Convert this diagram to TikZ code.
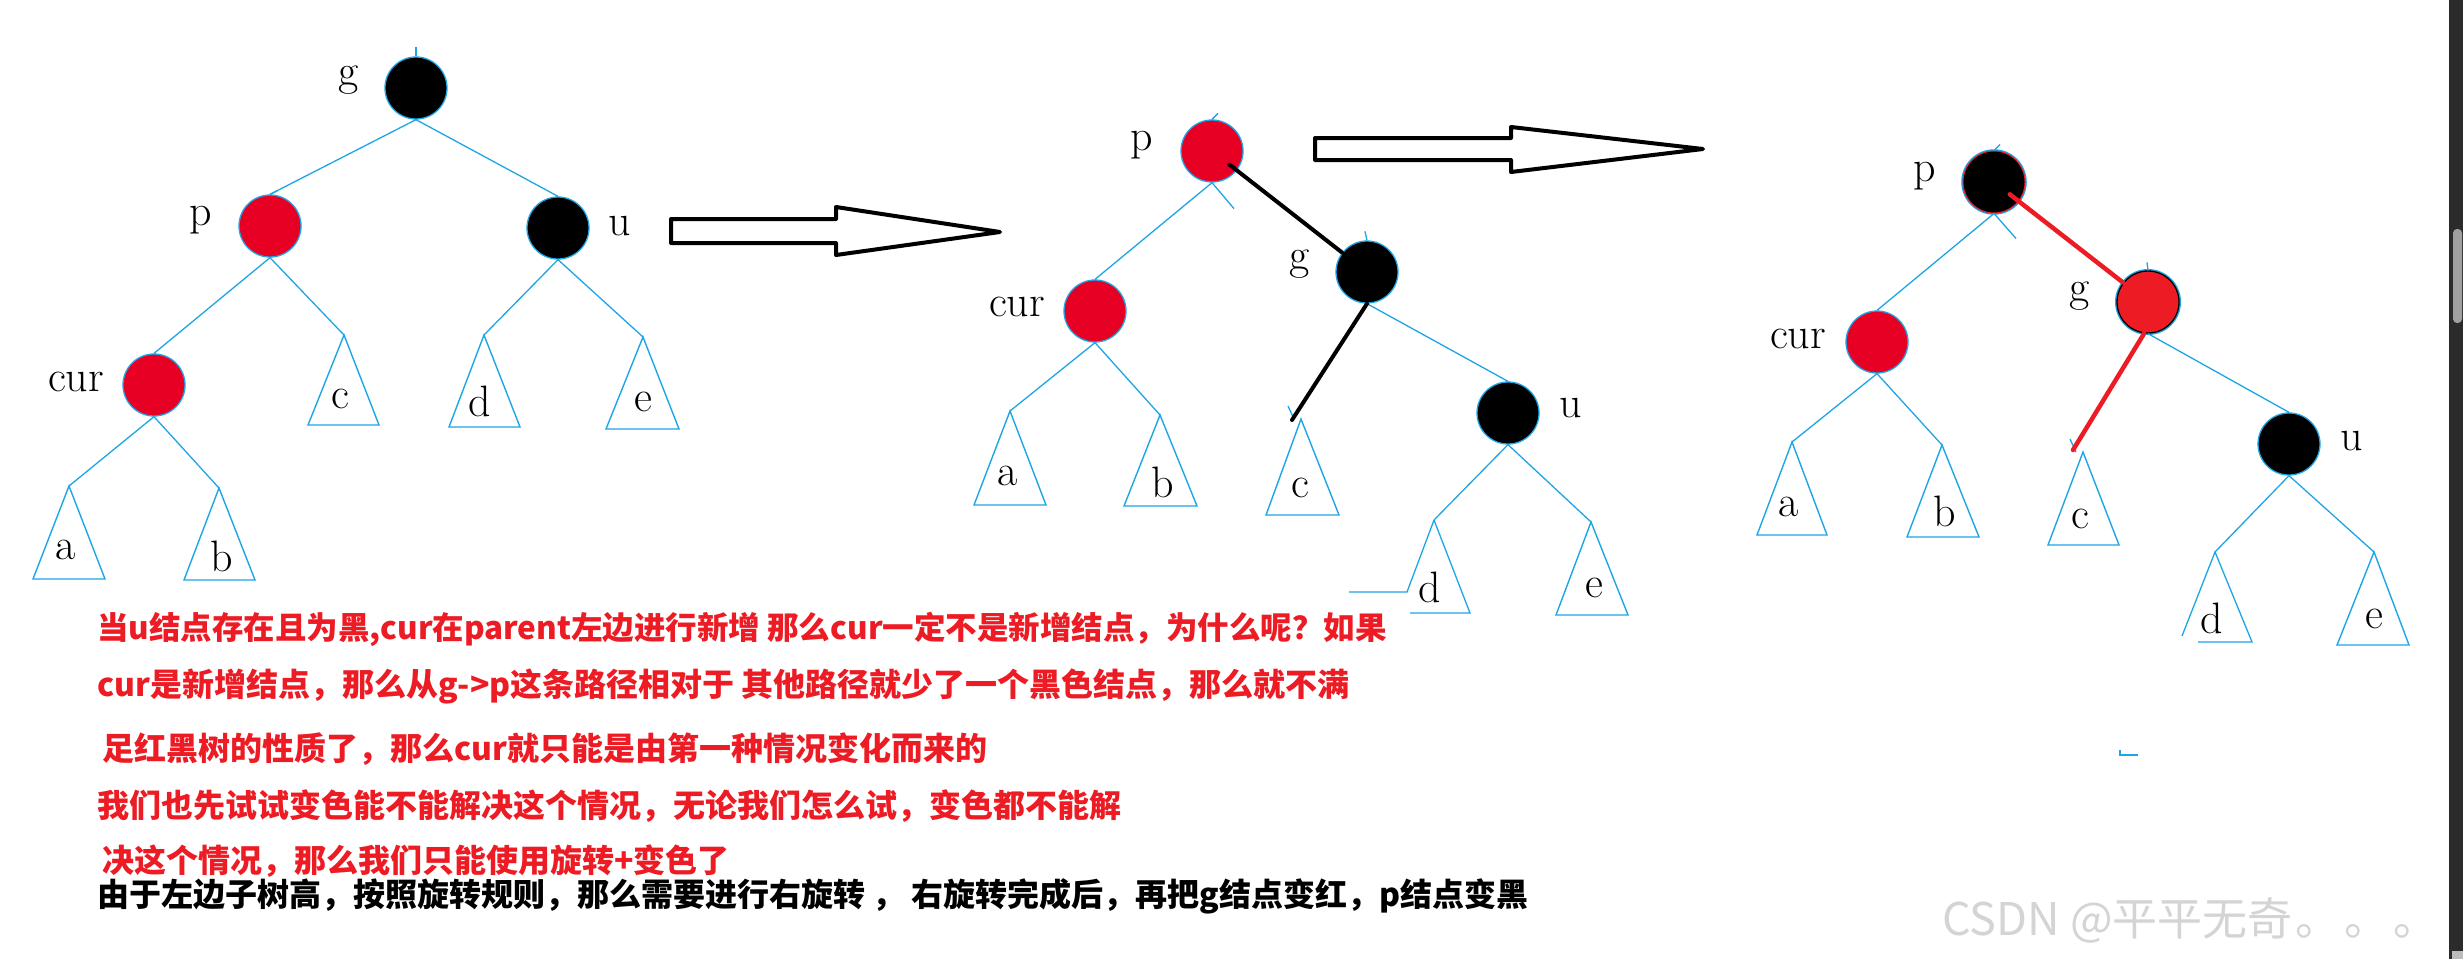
\documentclass[tikz,border=0pt]{standalone}
\usepackage{fontspec}
\usetikzlibrary{calc}
\newfontfamily\cjk{Noto Sans CJK SC}
\definecolor{blueline}{RGB}{30,165,230}
\definecolor{nodered}{RGB}{232,0,36}
\definecolor{txtred}{RGB}{237,28,36}
\definecolor{gred}{RGB}{237,28,36}
\definecolor{scrollbg}{RGB}{43,43,43}
\definecolor{thumbgray}{RGB}{160,160,160}
\definecolor{wmgray}{RGB}{212,212,212}
\begin{document}
\begin{tikzpicture}[x=1pt,y=-1pt,
  rb/.style={circle, minimum size=62pt, inner sep=0pt, draw=blueline, line width=1.3pt},
  rednode/.style={rb, fill=nodered},
  blacknode/.style={rb, fill=black},
  lbl/.style={inner sep=0pt, font=\fontsize{44}{48}\selectfont},
  bl/.style={draw=blueline, line width=1.3pt},
  subtri/.style={draw=blueline, line width=1.4pt, line join=miter},
  rotblack/.style={draw=black, line width=4pt, line cap=round},
  rotred/.style={draw=gred, line width=4.5pt, line cap=round},
  blockarrow/.style={draw=black, line width=4pt, line join=round, fill=white},
  cjkline/.style={inner sep=0pt, anchor=base west, font=\cjk\bfseries\fontsize{32}{36}\selectfont},
]
\useasboundingbox[fill=white] (0,0) rectangle (2463,959);

% ---------------- Tree 1 ----------------
\node[blacknode] (g1) at (416,88) {};
\node[rednode] (p1) at (270,226) {};
\node[blacknode] (u1) at (558,228) {};
\node[rednode] (cur1) at (154,385) {};
\coordinate (a1) at (69,486);
\coordinate (b1) at (219,488);
\coordinate (c1) at (344,335);
\coordinate (d1) at (484,335);
\coordinate (e1) at (643,337);
\draw[bl] (g1.north) -- ++(0,-9);
\draw[bl] (p1.north) -- ++(8,-4);
\draw[bl] (g1.south) -- (p1.north);
\draw[bl] (g1.south) -- (u1.north);
\draw[bl] (p1.south) -- (cur1.north);
\draw[bl] (p1.south) -- (c1);
\draw[bl] (u1.south) -- (d1);
\draw[bl] (u1.south) -- (e1);
\draw[bl] (cur1.south) -- (a1);
\draw[bl] (cur1.south) -- (b1);
\draw[subtri] (a1) -- ++(-36,93) -- ++(72,0) -- cycle;
\draw[subtri] (b1) -- ++(-35,92) -- ++(71,0) -- cycle;
\draw[subtri] (c1) -- ++(-36,90) -- ++(71,0) -- cycle;
\draw[subtri] (d1) -- ++(-35,92) -- ++(71,0) -- cycle;
\draw[subtri] (e1) -- ++(-37,92) -- ++(73,0) -- cycle;
\node[lbl] (g1l) at (349,80) {g};
\node[lbl] (p1l) at (201,220) {p};
\node[lbl] (u1l) at (620,226) {u};
\node[lbl] (cur1l) at (76,382) {cur};
\node[lbl] (a1l) at (66,550) {a};
\node[lbl] (b1l) at (222,556) {b};
\node[lbl] (c1l) at (340,399) {c};
\node[lbl] (d1l) at (480,401) {d};
\node[lbl] (e1l) at (643,402) {e};

% ---------------- Arrows ----------------
\draw[blockarrow] (671,219) -- (836,219) -- (836,207) -- (1000,232) -- (836,255) -- (836,243) -- (671,243) -- cycle;
\draw[blockarrow] (1315,138) -- (1511,138) -- (1511,127) -- (1703,149) -- (1511,172) -- (1511,160) -- (1315,160) -- cycle;

% ---------------- Tree 2 ----------------
\node[rednode] (p2) at (1212,151) {};
\node[blacknode] (g2) at (1367,272) {};
\node[rednode] (cur2) at (1095,311) {};
\node[blacknode] (u2) at (1508,413) {};
\coordinate (a2) at (1010,411);
\coordinate (b2) at (1160,415);
\coordinate (c2) at (1301,419);
\coordinate (d2) at (1434,520);
\coordinate (e2) at (1591,522);
\draw[bl] (p2.north) -- ++(6,-6);
\draw[bl] (g2.north) -- ++(-2,-9);
\draw[bl] (p2.south) -- (cur2.north);
\draw[bl] (p2.south) -- ++(22,26);
\draw[bl] (g2.south) -- (u2.north);
\draw[bl] (cur2.south) -- (a2);
\draw[bl] (cur2.south) -- (b2);
\draw[bl] (u2.south) -- (d2);
\draw[bl] (u2.south) -- (e2);
\draw[bl] ($(c2)+(-13,-13)$) -- ($(c2)+(-7,0)$);
\draw[subtri] (a2) -- ++(-36,94) -- ++(72,0) -- cycle;
\draw[subtri] (b2) -- ++(-36,91) -- ++(73,0) -- cycle;
\draw[subtri] (c2) -- ++(-35,96) -- ++(73,0) -- cycle;
\draw[bl] (d2) -- (1407,592) -- (1349,592);
\draw[bl] (1410,613) -- (1470,613) -- (d2);
\draw[subtri] (e2) -- ++(-35,93) -- ++(72,0) -- cycle;
\draw[rotblack] ($(p2.center)!22pt!(g2.center)$) -- (g2);
\draw[rotblack] (g2.south) -- ($(c2)+(-9,1)$);
\node[lbl] (p2l) at (1142,145) {p};
\node[lbl] (g2l) at (1300,264) {g};
\node[lbl] (cur2l) at (1017,307) {cur};
\node[lbl] (u2l) at (1571,408) {u};
\node[lbl] (a2l) at (1008,476) {a};
\node[lbl] (b2l) at (1163,482) {b};
\node[lbl] (c2l) at (1300,488) {c};
\node[lbl] (d2l) at (1430,587) {d};
\node[lbl] (e2l) at (1594,588) {e};

% ---------------- Tree 3 ----------------
\node[rb, fill=black, draw=gred, line width=1pt, preaction={draw=blueline, line width=3.5pt}] (p3) at (1994,182) {};
\node[rb, fill=gred, draw=black, line width=1.3pt, preaction={draw=blueline, line width=4pt}] (g3) at (2148,302) {};
\node[rednode] (cur3) at (1877,342) {};
\node[blacknode] (u3) at (2289,444) {};
\coordinate (a3) at (1792,442);
\coordinate (b3) at (1942,445);
\coordinate (c3) at (2083,452);
\coordinate (d3) at (2215,552);
\coordinate (e3) at (2374,552);
\draw[bl] (p3.north) -- ++(6,-6);
\draw[bl] (g3.north) -- ++(-1,-8);
\draw[bl] (p3.south) -- (cur3.north);
\draw[bl] (p3.south) -- ++(22,25);
\draw[bl] (g3.south) -- (u3.north);
\draw[bl] (cur3.south) -- (a3);
\draw[bl] (cur3.south) -- (b3);
\draw[bl] (u3.south) -- (d3);
\draw[bl] (u3.south) -- (e3);
\draw[bl] ($(c3)+(-13,-13)$) -- ($(c3)+(-7,0)$);
\draw[subtri] (a3) -- ++(-35,93) -- ++(70,0) -- cycle;
\draw[subtri] (b3) -- ++(-35,92) -- ++(72,0) -- cycle;
\draw[subtri] (c3) -- ++(-35,93) -- ++(71,0) -- cycle;
\draw[bl] (2182,636) -- (d3) -- (2252,642) -- (2198,642);
\draw[subtri] (e3) -- ++(-37,93) -- ++(72,0) -- cycle;
\draw[rotred] ($(p3.center)!20pt!(g3.center)$) -- (g3);
\draw[rotred] ($(g3.south)+(-4,0)$) -- ($(c3)+(-10,-2)$);
\node[lbl] (p3l) at (1925,176) {p};
\node[lbl] (g3l) at (2080,296) {g};
\node[lbl] (cur3l) at (1798,339) {cur};
\node[lbl] (u3l) at (2352,441) {u};
\node[lbl] (a3l) at (1789,507) {a};
\node[lbl] (b3l) at (1945,511) {b};
\node[lbl] (c3l) at (2080,519) {c};
\node[lbl] (d3l) at (2212,618) {d};
\node[lbl] (e3l) at (2374,619) {e};

% small leftover fragment
\draw[bl] (2120,750) -- (2120,755) -- (2138,755);

% ---------------- Text ----------------
\node[cjkline, text=txtred, font=\cjk\bfseries\fontsize{31.5}{36}\selectfont] (t1) at (97,639) {当u结点存在且为黑,cur在parent左边进行新增 那么cur一定不是新增结点，为什么呢？如果};
\node[cjkline, text=txtred] (t2) at (97,696) {cur是新增结点，那么从g->p这条路径相对于 其他路径就少了一个黑色结点，那么就不满};
\node[cjkline, text=txtred] (t3) at (102,760) {足红黑树的性质了，那么cur就只能是由第一种情况变化而来的};
\node[cjkline, text=txtred] (t4) at (97,817) {我们也先试试变色能不能解决这个情况，无论我们怎么试，变色都不能解};
\node[cjkline, text=txtred] (t5) at (102,872) {决这个情况，那么我们只能使用旋转+变色了};
\node[cjkline, text=black] (t6) at (97,906) {由于左边子树高，按照旋转规则，那么需要进行右旋转 ， 右旋转完成后，再把g结点变红，p结点变黑};

% ---------------- Watermark & scrollbar ----------------
\node[inner sep=0pt, anchor=base west, text=wmgray, font=\cjk\fontsize{45}{48}\selectfont] (wm) at (1942,935) {CSDN @平平无奇\hspace{3pt}。\hspace{4pt}。\hspace{4pt}。};
\fill[scrollbg] (2449,0) rectangle (2463,959);
\fill[thumbgray, rounded corners=4pt] (2453,229) rectangle (2462,323);
\fill[thumbgray!70] (2452,951) rectangle (2463,959);
\end{tikzpicture}
\end{document}
